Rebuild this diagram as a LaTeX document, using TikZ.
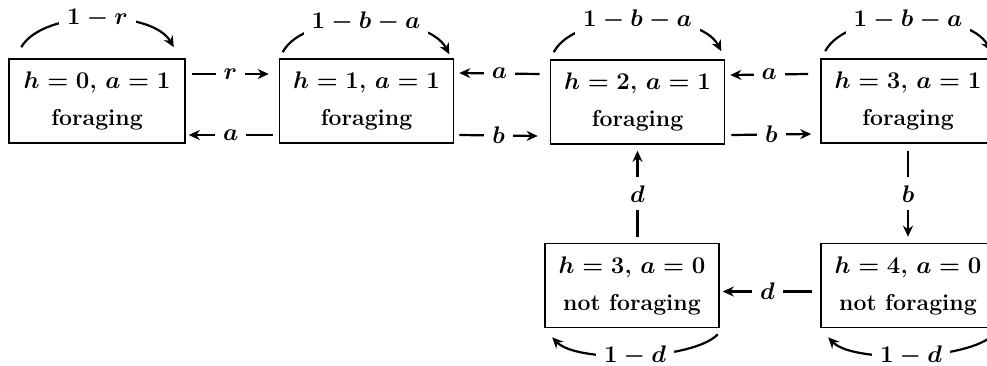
\documentclass[tikz,border=0pt]{standalone}
\usetikzlibrary{arrows.meta,calc}
\begin{document}
\begin{tikzpicture}[x=0.5pt,y=-0.5pt,
  state/.style={draw, line width=0.8pt, minimum width=87pt, minimum height=42pt, align=center, inner sep=0pt,
    font=\fontsize{11.5}{18.5}\selectfont\bfseries\boldmath},
  conn/.style={line width=1.1pt, -{Stealth[length=5.5pt,width=5pt]}},
  lbl/.style={fill=white, inner sep=4pt, font=\fontsize{11.5}{12}\selectfont\bfseries\boldmath}]
\useasboundingbox (0,0) rectangle (987,365);
\clip (0,0) rectangle (987,365);
\node[state, minimum width=88pt] (b0) at (97,101) {$h=0$, $a=1$\\foraging};
\node[state] (b1) at (366.5,101) {$h=1$, $a=1$\\foraging};
\node[state] (b2) at (637.5,102) {$h=2$, $a=1$\\foraging};
\node[state] (b3) at (908,101) {$h=3$, $a=1$\\foraging};
\node[state] (b5) at (632,285.5) {$h=3$, $a=0$\\not foraging};
\node[state] (b4) at (908,285.5) {$h=4$, $a=0$\\not foraging};
% horizontal connectors
\draw[conn] ($(b0.east)+(6,-27)$) -- node[lbl]{$r$} ($(b1.west)+(-10,-27)$);
\draw[conn] ($(b1.west)+(-6,34)$) -- node[lbl]{$a$} ($(b0.east)+(3,34)$);
\draw[conn] ($(b1.east)+(5,34)$) -- node[lbl]{$b$} ($(b2.west)+(-12,34)$);
\draw[conn] ($(b2.west)+(-10,-28)$) -- node[lbl]{$a$} ($(b1.east)+(5,-28)$);
\draw[conn] ($(b2.east)+(6,33)$) -- node[lbl]{$b$} ($(b3.west)+(-9,33)$);
\draw[conn] ($(b3.west)+(-12,-27)$) -- node[lbl]{$a$} ($(b2.east)+(5,-27)$);
% vertical connectors
\draw[conn] ($(b3.south)+(0,7)$) -- node[lbl]{$b$} ($(b4.north)+(0,-6)$);
\draw[conn] ($(b2.south |- b5.north)+(0,-6)$) -- node[lbl]{$d$} ($(b2.south)+(0,6)$);
\draw[conn] ($(b4.west)+(-8,6)$) -- node[lbl]{$d$} ($(b5.east)+(3,6)$);
% self loops (top)
\draw[conn] ($(b0.north west)+(13,-11)$) .. controls +(22,-38) and +(-22,-38) .. node[lbl]{$1-r$} ($(b0.north east)+(-12,-11)$);
\draw[conn] ($(b1.north west)+(4,-6)$) .. controls +(22,-42) and +(-22,-42) .. node[lbl]{$1-b-a$} ($(b1.north east)+(-5,-4)$);
\draw[conn] ($(b2.north west)+(4,-7)$) .. controls +(22,-42) and +(-22,-42) .. node[lbl]{$1-b-a$} ($(b2.north east)+(-4,-8)$);
\draw[conn] ($(b3.north west)+(5,-7)$) .. controls +(22,-42) and +(-22,-42) .. node[lbl]{$1-b-a$} ($(b3.north east)+(-5,-7)$);
% self loops (bottom)
\draw[conn] ($(b5.south east)+(-2,6)$) .. controls +(-25,26) and +(25,26) .. node[lbl]{$1-d$} ($(b5.south west)+(8,9)$);
\draw[conn] ($(b4.south east)+(-2,6)$) .. controls +(-25,26) and +(25,26) .. node[lbl]{$1-d$} ($(b4.south west)+(8,9)$);
\end{tikzpicture}
\end{document}
